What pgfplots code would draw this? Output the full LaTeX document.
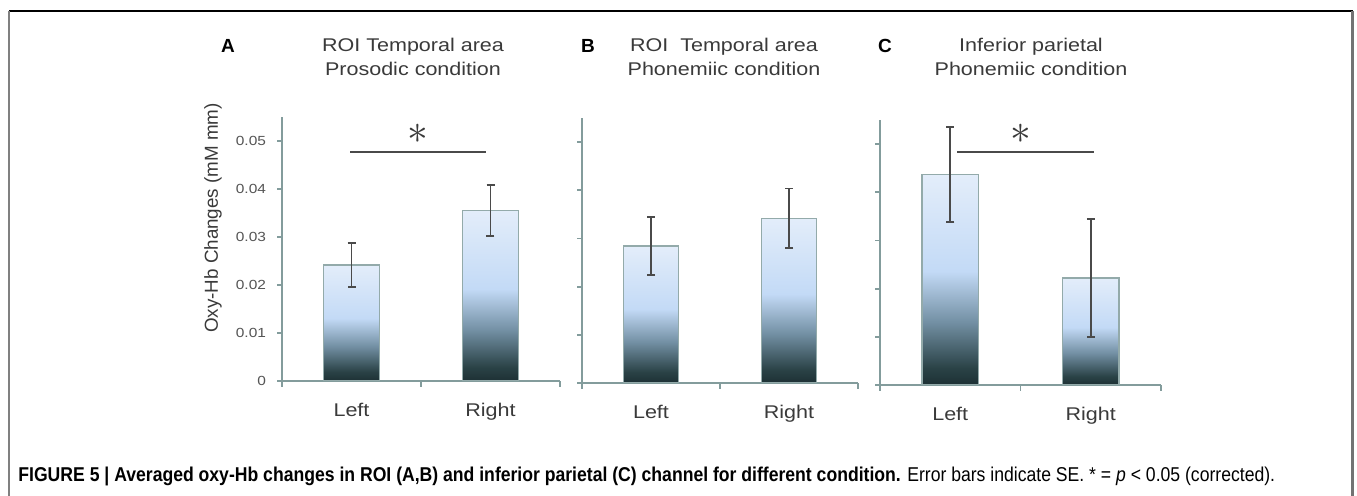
\documentclass[border=0pt]{standalone}
\usepackage{fontspec}
\setmainfont{Liberation Sans}
\newfontfamily\wide[FakeStretch=1.17]{Liberation Sans}
\newfontfamily\capfont[FakeStretch=0.88]{Liberation Sans}
\usepackage{pgfplots}
\pgfplotsset{compat=1.18}

\definecolor{axisc}{HTML}{839C9C}
\definecolor{bardraw}{HTML}{93AAAA}
\definecolor{errc}{HTML}{4A4A4A}
\definecolor{txt}{HTML}{3A3A3A}
\definecolor{tickc}{HTML}{555555}
\definecolor{bdark}{HTML}{1D3034}
\definecolor{bdark2}{HTML}{2A4246}
\definecolor{bmid}{HTML}{7390A4}
\definecolor{bblue}{HTML}{C3DAF6}
\definecolor{btop}{HTML}{E3EDFA}

% gradient of each bar, bottom (25bp) to top (75bp)
\pgfdeclareverticalshading{barshade}{100bp}{color(0bp)=(bdark); color(25bp)=(bdark); color(29bp)=(bdark2); color(40bp)=(bmid); color(52bp)=(bblue); color(75bp)=(btop); color(100bp)=(btop)}

\pgfplotsset{
  panel/.style={
    scale only axis,
    xmin=-0.5, xmax=1.5, ymin=0, ymax=0.055,
    axis x line*=bottom, axis y line*=left,
    axis line style={axisc, line width=1.1pt, -},
    xtick={0,1}, xticklabels={Left,Right},
    minor xtick={-0.5,0.5,1.5},
    major x tick style={draw=none},
    minor x tick style={axisc, line width=0.9pt},
    minor tick length=3pt,
    ytick={0,0.01,0.02,0.03,0.04,0.05},
    scaled y ticks=false,
    y tick style={axisc, line width=0.9pt},
    major tick length=2.5pt,
    tick align=outside,
    xticklabel style={font=\wide\fontsize{9.2}{10}\selectfont, text=txt, yshift=-5pt},
    yticklabel style={font=\wide\fontsize{6.6}{7}\selectfont, text=tickc,
      /pgf/number format/fixed, /pgf/number format/precision=2,
      /pgf/number format/assume math mode=true, xshift=-2pt},
    ybar, bar width=0.4, bar shift=0pt,
    error bars/y dir=both, error bars/y explicit,
    error bars/error bar style={errc, line width=0.8pt},
    error bars/error mark options={rotate=90, errc, line width=0.8pt, mark size=2pt},
  },
  bar/.style={draw=bardraw, line width=0.7pt, shade, shading=barshade},
  sig/.style={sharp plot, no marks, draw=errc, line width=1pt, forget plot},
}

\begin{document}
\begin{tikzpicture}[x=0.5pt, y=-0.5pt]
\useasboundingbox (0,0) rectangle (1357,496);
\fill[white] (0,0) rectangle (1357,496);
% frame round the figure
\draw[black, line width=1pt] (9,11.5) -- (1352.5,11.5);
\draw[gray, line width=1.1pt] (9,11) -- (9,496);
\draw[gray!90!black, line width=1.1pt] (1352.5,11) -- (1352.5,496);

\coordinate (pA) at (282,381);
\coordinate (pB) at (582,383);
\coordinate (pC) at (880,385);

% panel A
\begin{axis}[panel, at={(pA)}, anchor=south west, width=139pt, height=132pt]
  \addplot[bar] coordinates {(0,0.0242) +- (0,0.0046)};
  \addplot[bar] coordinates {(1,0.0355) +- (0,0.0053)};
  \addplot[sig] coordinates {(-0.01,0.0478) (0.97,0.0478)};
  \node[text=txt] at (axis cs:0.48,0.0515) {\fontsize{20}{20}\selectfont$\ast$};
\end{axis}

% panel B
\begin{axis}[panel, at={(pB)}, anchor=south west, width=138pt, height=132.5pt, yticklabels={}]
  \addplot[bar] coordinates {(0,0.0284) +- (0,0.0060)};
  \addplot[bar] coordinates {(1,0.0342) +- (0,0.0062)};
\end{axis}

% panel C
\begin{axis}[panel, at={(pC)}, anchor=south west, width=140.5pt, height=132.5pt, yticklabels={}]
  \addplot[bar] coordinates {(0,0.0437) +- (0,0.0099)};
  \addplot[bar] coordinates {(1,0.0222) +- (0,0.0122)};
  \addplot[sig] coordinates {(0.05,0.0483) (1.02,0.0483)};
  \node[text=txt] at (axis cs:0.50,0.0522) {\fontsize{20}{20}\selectfont$\ast$};
\end{axis}

% titles
\begin{scope}[font=\wide\fontsize{9.2}{11}\selectfont, text=txt]
  \node at (413,47) {ROI Temporal area};
  \node at (413,69) {Prosodic condition};
  \node at (724,47) {ROI\ \ Temporal area};
  \node at (724,69) {Phonemiic condition};
  \node at (1031,47) {Inferior parietal};
  \node at (1031,69) {Phonemiic condition};
\end{scope}
\begin{scope}[font=\bfseries\fontsize{9.5}{11}\selectfont, text=black]
  \node at (228,46) {A};
  \node at (588,46) {B};
  \node at (885,46) {C};
\end{scope}
\node[rotate=90, text=txt, font=\fontsize{9.4}{11}\selectfont] at (213,218) {Oxy-Hb Changes (mM mm)};

% caption
\node[anchor=base west, inner sep=0pt, font=\capfont\fontsize{10}{12}\selectfont] at (18,482)
  {\textbf{FIGURE 5 | Averaged oxy-Hb changes in ROI (A,B) and inferior parietal (C) channel for different condition.} Error bars indicate SE. * = \textit{p} {<} 0.05 (corrected).};
\end{tikzpicture}
\end{document}
